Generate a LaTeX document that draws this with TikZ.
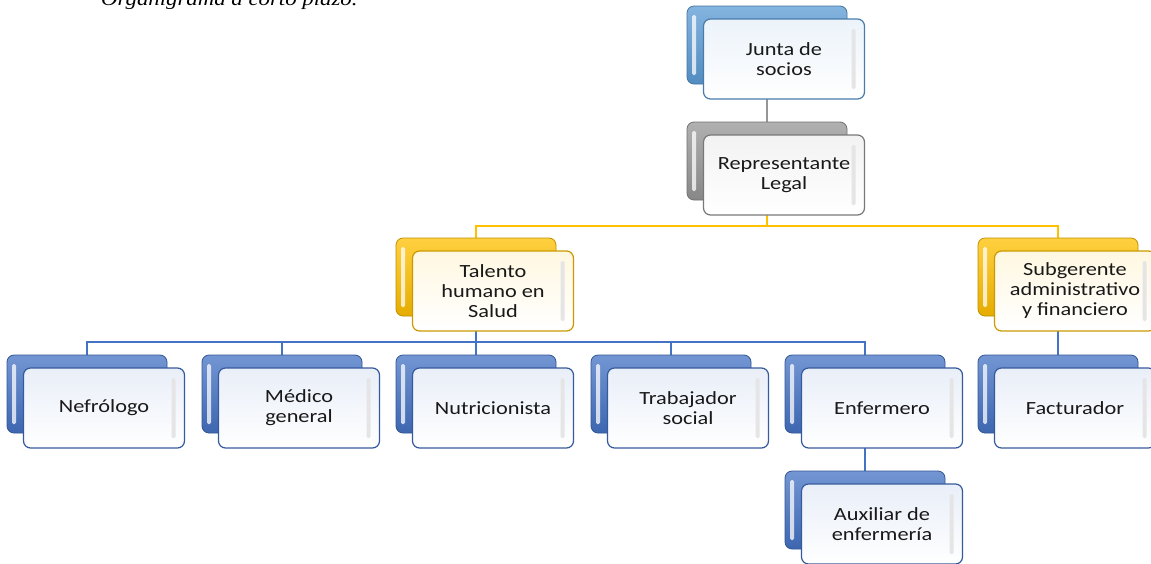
\documentclass[tikz,border=0pt]{standalone}
\usepackage{fontspec}
\setmainfont{Carlito}[FakeStretch=1.2]
\newfontfamily\titlefont{Liberation Serif}[FakeStretch=1.2]
\usetikzlibrary{backgrounds}
\definecolor{bluecol}{RGB}{68,114,196}
\definecolor{skycol}{RGB}{91,155,213}
\definecolor{greycol}{RGB}{150,150,150}
\definecolor{goldcol}{RGB}{255,192,0}
\definecolor{textcol}{RGB}{25,25,25}

\begin{document}
\begin{tikzpicture}[
    x=1pt, y=-1pt,
    backbox/.style={rectangle, rounded corners=7pt, minimum width=160pt, minimum height=78pt, draw=#1!75!black, line width=0.8pt, top color=#1!75!white, bottom color=#1!90!black,
        path picture={\fill[white, opacity=.75, rounded corners=1.5pt] ([xshift=5pt,yshift=-9pt]path picture bounding box.north west) rectangle ([xshift=9pt,yshift=9pt]path picture bounding box.south west);}},
    frontbox/.style={rectangle, rounded corners=7pt, minimum width=161pt, minimum height=80pt, align=center, draw=#1!80!black, line width=1.2pt, top color=#1!12!white, bottom color=white, text=textcol, font=\fontsize{18.6}{20}\selectfont,
        path picture={\fill[black!10, rounded corners=1.5pt] ([xshift=-13pt,yshift=-10pt]path picture bounding box.north east) rectangle ([xshift=-9pt,yshift=10pt]path picture bounding box.south east);}},
    link/.style={line width=1.5pt},
]
\useasboundingbox (0,0) rectangle (1151,563);

\node[anchor=base west, inner sep=0pt, font=\titlefont\itshape\fontsize{19}{20}\selectfont] (title) at (101,5) {Organigrama a corto plazo.};

% top levels
\node[backbox=skycol] (junta-b) at (767,45) {};
\node[frontbox=skycol] (junta) at (784,59) {Junta de\\socios};
\node[backbox=greycol] (rep-b) at (767,161) {};
\node[frontbox=greycol] (rep) at (784,175) {Representante\\Legal};
\node[backbox=goldcol] (talento-b) at (476,277) {};
\node[frontbox=goldcol] (talento) at (493,291) {Talento\\humano en\\Salud};
\node[backbox=goldcol] (subg-b) at (1058,277) {};
\node[frontbox=goldcol] (subg) at (1075,291) {Subgerente\\administrativo\\y financiero};

% staff
\node[backbox=bluecol] (nefro-b) at (87,394) {};
\node[frontbox=bluecol] (nefro) at (104,408) {Nefrólogo};
\node[backbox=bluecol] (medico-b) at (282,394) {};
\node[frontbox=bluecol] (medico) at (299,408) {Médico\\general};
\node[backbox=bluecol] (nutri-b) at (476,394) {};
\node[frontbox=bluecol] (nutri) at (493,408) {Nutricionista};
\node[backbox=bluecol] (trab-b) at (671,394) {};
\node[frontbox=bluecol] (trab) at (688,408) {Trabajador\\social};
\node[backbox=bluecol] (enf-b) at (865,394) {};
\node[frontbox=bluecol] (enf) at (882,408) {Enfermero};
\node[backbox=bluecol] (fact-b) at (1058,394) {};
\node[frontbox=bluecol] (fact) at (1075,408) {Facturador};
\node[backbox=bluecol] (aux-b) at (865,510) {};
\node[frontbox=bluecol] (aux) at (882,524) {Auxiliar de\\enfermería};

% connectors behind the boxes
\begin{scope}[on background layer]
\fill[white] (0,0) rectangle (1151,563);
\draw[link, greycol] (junta-b.south) -- (rep-b.north);
\coordinate (bus2) at (767,226);
\draw[link, goldcol] (rep-b.south) -- (bus2);
\draw[link, goldcol] (talento-b.north) |- (bus2);
\draw[link, goldcol] (subg-b.north) |- (bus2);
\coordinate (bus3) at (476,342);
\draw[link, bluecol] (talento-b.south) -- (bus3);
\foreach \unit in {nefro,medico,nutri,trab,enf}
    \draw[link, bluecol] (\unit-b.north) |- (bus3);
\draw[link, bluecol] (subg-b.south) -- (fact-b.north);
\draw[link, bluecol] (enf-b.south) -- (aux-b.north);
\end{scope}
\end{tikzpicture}
\end{document}
